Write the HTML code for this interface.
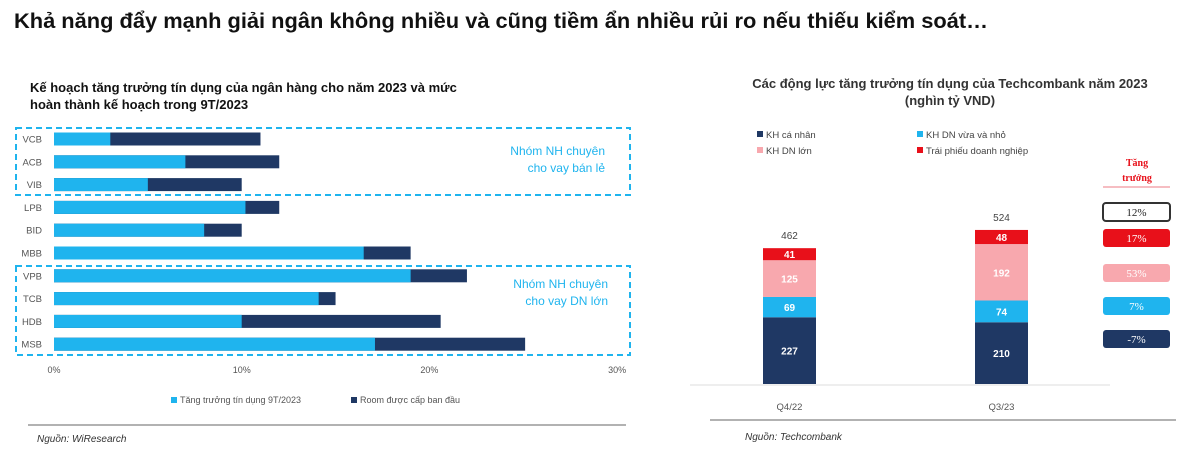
<!DOCTYPE html>
<html><head><meta charset="utf-8"><style>
body{margin:0;background:#fff;}
svg{display:block;font-family:"Liberation Sans","DejaVu Sans",sans-serif;}
</style></head><body>
<svg id="s" width="1200" height="474" viewBox="0 0 1200 474">
<text x="14" y="28" font-size="21" font-weight="bold" fill="#111" textLength="974" lengthAdjust="spacingAndGlyphs">Khả năng đẩy mạnh giải ngân không nhiều và cũng tiềm ẩn nhiều rủi ro nếu thiếu kiểm soát…</text>
<text x="30" y="92" font-size="13" font-weight="bold" fill="#111">Kế hoạch tăng trưởng tín dụng của ngân hàng cho năm 2023 và mức</text>
<text x="30" y="109" font-size="13" font-weight="bold" fill="#111">hoàn thành kế hoạch trong 9T/2023</text>
<g id="left"></g>
<rect x="16" y="128" width="614" height="67" fill="none" stroke="#1fb4ee" stroke-width="2" stroke-dasharray="6,4"/>
<rect x="16" y="266" width="614" height="89" fill="none" stroke="#1fb4ee" stroke-width="2" stroke-dasharray="6,4"/>
<text x="605" y="155" font-size="12" fill="#1fb4ee" text-anchor="end">Nhóm NH chuyên</text>
<text x="605" y="172" font-size="12" fill="#1fb4ee" text-anchor="end">cho vay bán lẻ</text>
<text x="608" y="288" font-size="12" fill="#1fb4ee" text-anchor="end">Nhóm NH chuyên</text>
<text x="608" y="305" font-size="12" fill="#1fb4ee" text-anchor="end">cho vay DN lớn</text>
<g>
<rect x="171" y="397" width="6" height="6" fill="#1fb4ee"/>
<text x="180" y="403" font-size="9" fill="#555">Tăng trưởng tín dụng 9T/2023</text>
<rect x="351" y="397" width="6" height="6" fill="#1f3864"/>
<text x="360" y="403" font-size="9" fill="#555">Room được cấp ban đầu</text>
</g>
<line x1="28" y1="425" x2="626" y2="425" stroke="#999" stroke-width="1.5"/>
<text x="37" y="442" font-size="10" font-style="italic" fill="#333">Nguồn: WiResearch</text>

<text x="950" y="88" font-size="13" fill="#333" font-weight="bold" text-anchor="middle">Các động lực tăng trưởng tín dụng của Techcombank năm 2023</text>
<text x="950" y="105" font-size="13" fill="#333" font-weight="bold" text-anchor="middle">(nghìn tỷ VND)</text>
<g id="right"></g>
<line x1="690" y1="385" x2="1110" y2="385" stroke="#ddd"/>
<line x1="710" y1="420" x2="1176" y2="420" stroke="#999" stroke-width="1.5"/>
<text x="745" y="440" font-size="10" font-style="italic" fill="#333">Nguồn: Techcombank</text>
<text x="1137" y="166" font-size="10" font-weight="bold" fill="#e8101a" text-anchor="middle" font-family="Liberation Serif,serif">Tăng</text>
<text x="1137" y="181" font-size="10" font-weight="bold" fill="#e8101a" text-anchor="middle" font-family="Liberation Serif,serif">trưởng</text>
<line x1="1103" y1="187" x2="1170" y2="187" stroke="#f4a7ad" stroke-width="1.5"/>
<g id="growth"></g>
</svg>
<script>
const NS="http://www.w3.org/2000/svg";
function mk(t,a,p){const e=document.createElementNS(NS,t);for(const k in a)e.setAttribute(k,a[k]);p.appendChild(e);return e;}
// Left chart data
const banks=["VCB","ACB","VIB","LPB","BID","MBB","VPB","TCB","HDB","MSB"];
const growth9T=[3,7,5,10.2,8,16.5,19,14.1,10,17.1];
const roomPlan=[11,12,10,12,10,19,22,15,20.6,25.1];
const xTicks=[0,10,20,30];
const xs=v=>54+v*18.77;
const ys=i=>139+i*22.8;
const L=document.getElementById('left');
banks.forEach((b,i)=>{
 let r=mk('rect',{x:xs(0),y:ys(i)-6.5,width:xs(roomPlan[i])-xs(0),height:13,fill:'#1f3864'},L);
 
 
 r=mk('rect',{x:xs(0),y:ys(i)-6.5,width:xs(growth9T[i])-xs(0),height:13,fill:'#1fb4ee'},L);
 
 
 const t=mk('text',{x:42,y:ys(i)+3.5,'font-size':9.5,fill:'#555','text-anchor':'end'},L);t.textContent=b;
 
 
});
xTicks.forEach(v=>{
 const t=mk('text',{x:xs(v),y:373,'font-size':9,fill:'#555','text-anchor':'middle'},L);t.textContent=v+'%';
 
 
});
// Right chart data
const periods=["Q4/22","Q3/23"];
const caNhan=[227,210];
const dnVuaNho=[69,74];
const dnLon=[125,192];
const traiPhieu=[41,48];
const totals=[462,524];
const seriesNames=["KH cá nhân","KH DN vừa và nhỏ","KH DN lớn","Trái phiếu doanh nghiệp"];
const colors=['#1f3864','#1fb4ee','#f8a8ae','#e8101a'];
const R=document.getElementById('right');
const base=384,k=0.294,bx=[763,975],bw=53;
const series=[caNhan,dnVuaNho,dnLon,traiPhieu];
periods.forEach((p,i)=>{
 let acc=0;
 series.forEach((s,j)=>{
  const y0=base-acc*k,h=s[i]*k;acc+=s[i];
  const r=mk('rect',{x:bx[i],y:y0-h,width:bw,height:h,fill:colors[j]},R);
  
  
  const t=mk('text',{x:bx[i]+bw/2,y:y0-h/2+4,'font-size':10,'font-weight':'bold',fill:'#fff','text-anchor':'middle'},R);t.textContent=s[i];
  
  
 });
 let t=mk('text',{x:bx[i]+bw/2,y:base-totals[i]*k-9,'font-size':10,fill:'#444','text-anchor':'middle'},R);t.textContent=totals[i];
 
 
 t=mk('text',{x:bx[i]+bw/2,y:410,'font-size':9.5,fill:'#555','text-anchor':'middle'},R);t.textContent=p;
 
 
});
const lgPos=[[757,138],[917,138],[757,154],[917,154]];
const lgOrder=[0,1,2,3];
lgOrder.forEach((j,n)=>{
 const [x,y]=lgPos[n];
 const r=mk('rect',{x:x,y:y-7,width:6,height:6,fill:colors[j]},R);
 
 
 const t=mk('text',{x:x+9,y:y,'font-size':9.5,fill:'#444'},R);t.textContent=seriesNames[j];
 
 
});
// growth boxes
const growthLabels=["12%","17%","53%","7%","-7%"];
const gFill=['#fff','#e8101a','#f8a8ae','#1fb4ee','#1f3864'];
const gY=[203,229,264,297,330];
const G=document.getElementById('growth');
growthLabels.forEach((g,i)=>{
 const r=mk('rect',{x:1103,y:gY[i],width:67,height:18,rx:3,fill:gFill[i],stroke:i==0?'#333':'none','stroke-width':2},G);
 
 
 const t=mk('text',{x:1136.5,y:gY[i]+13,'font-size':11,fill:i==0?'#222':'#fff','text-anchor':'middle','font-family':'Liberation Serif,serif'},G);t.textContent=g;
 
 
});
</script>
</body></html>
